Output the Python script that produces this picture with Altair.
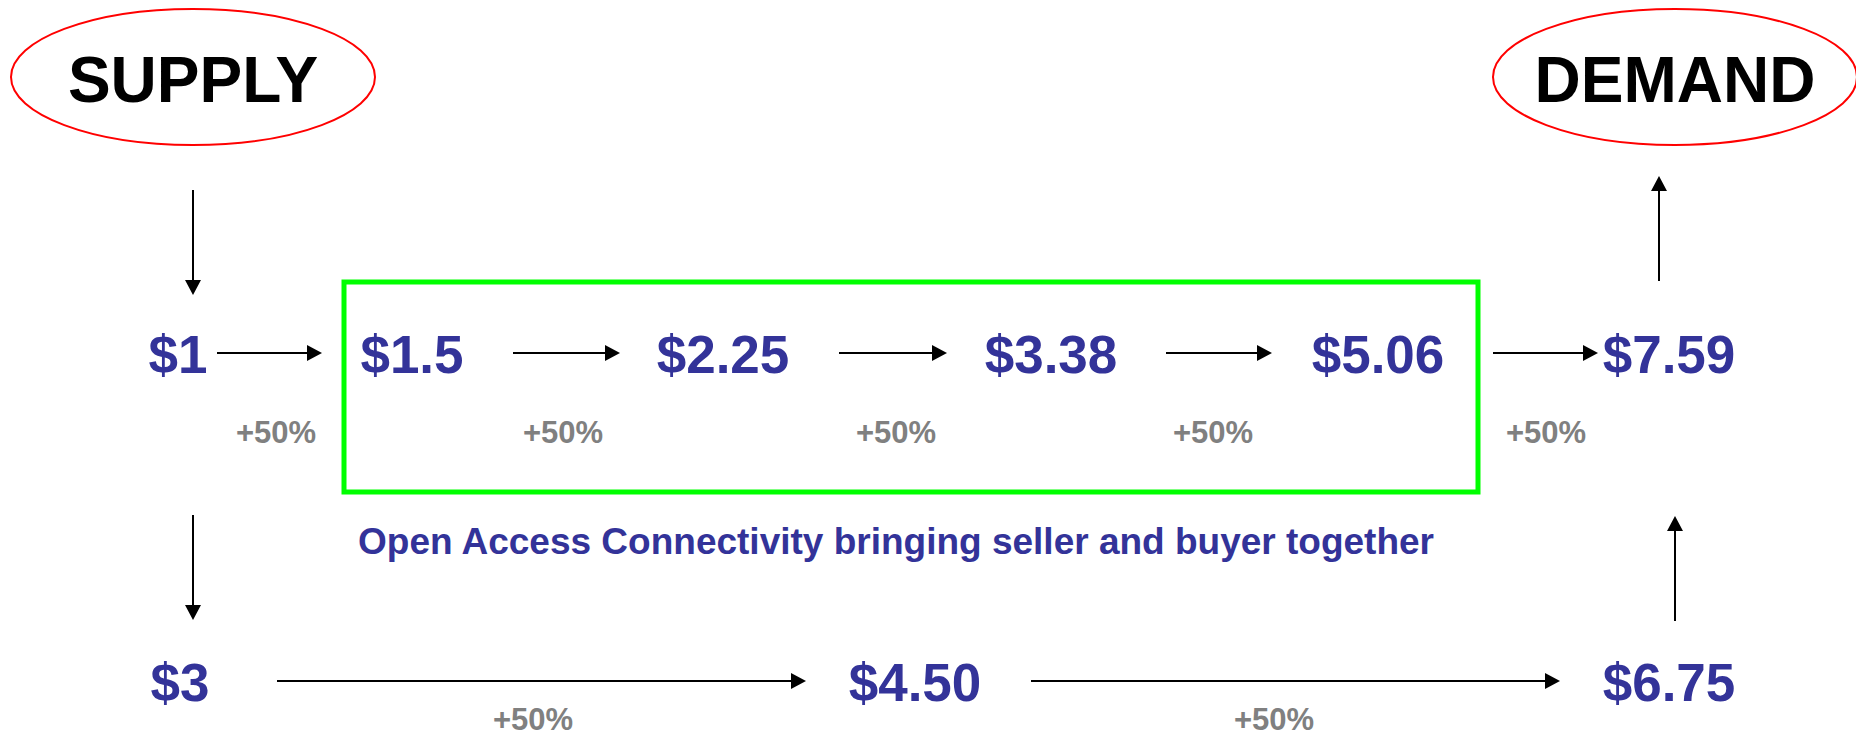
import altair as alt
import pandas as pd

# ---------------- data (text content) ----------------
end_labels = ["SUPPLY", "DEMAND"]
top_prices = ["$1", "$1.5", "$2.25", "$3.38", "$5.06", "$7.59"]
bottom_prices = ["$3", "$4.50", "$6.75"]
top_growth = ["+50%", "+50%", "+50%", "+50%", "+50%"]
bottom_growth = ["+50%", "+50%"]
caption = ["Open Access Connectivity bringing seller and buyer together"]

# ---------------- layout (pixel positions in the page) ----------------
end_x = [193, 1675]
end_y = [102, 102]
ellipse_y = [77, 77]
top_x = [178, 412, 723, 1051, 1378, 1669]
top_y = 373
bottom_x = [180, 915, 1669]
bottom_y = 701
top_growth_x = [276, 563, 896, 1213, 1546]
top_growth_y = 443
bottom_growth_x = [533, 1274]
bottom_growth_y = 730
caption_x = [896]
caption_y = [554]
box = dict(x=344, x2=1478, y=282, y2=492)
# arrows: start x, start y, tip x, tip y, direction angle
arrow_x1 = [217, 513, 839, 1166, 1493, 277, 1031, 193, 193, 1675, 1659]
arrow_y1 = [353, 353, 353, 353, 353, 681, 681, 190, 515, 621, 281]
arrow_x2 = [322, 620, 947, 1272, 1598, 806, 1560, 193, 193, 1675, 1659]
arrow_y2 = [353, 353, 353, 353, 353, 681, 681, 295, 620, 516, 176]
arrow_angle = [0, 0, 0, 0, 0, 0, 0, 90, 90, 270, 270]

W, H = 1848, 728
xs = alt.Scale(domain=[8, 8 + W], nice=False, zero=False)
ys = alt.Scale(domain=[8, 8 + H], nice=False, zero=False, reverse=True)

BLUE = "#333399"
GREY = "#808080"
FONT = "Liberation Sans"

ELLIPSE = ("M -1 0 C -1 -0.2063 -0.5523 -0.3736 0 -0.3736 "
           "C 0.5523 -0.3736 1 -0.2063 1 0 "
           "C 1 0.2063 0.5523 0.3736 0 0.3736 "
           "C -0.5523 0.3736 -1 0.2063 -1 0 Z")
TRI = "M 0 0 L -2 -1.0667 L -2 1.0667 Z"


def X(f="x"):
    return alt.X(f"{f}:Q", scale=xs, axis=None)


def Y(f="y"):
    return alt.Y(f"{f}:Q", scale=ys, axis=None)


def text_layer(labels, xpos, ypos, size, color):
    if not isinstance(ypos, list):
        ypos = [ypos] * len(labels)
    df = pd.DataFrame({"label": labels, "x": xpos, "y": ypos})
    return alt.Chart(df).mark_text(
        align="center", baseline="alphabetic", font=FONT,
        fontWeight="bold", fontSize=size, color=color
    ).encode(x=X(), y=Y(), text="label:N")


ell_df = pd.DataFrame({"x": end_x, "y": ellipse_y})
ellipses = alt.Chart(ell_df).mark_point(
    shape=ELLIPSE, size=(2 * 182) ** 2, filled=False,
    stroke="#ff0000", strokeWidth=2, opacity=1
).encode(x=X(), y=Y())

box_df = pd.DataFrame([box])
green_box = alt.Chart(box_df).mark_rect(
    filled=False, stroke="#00ff00", strokeWidth=5, opacity=1
).encode(x=X("x"), x2="x2:Q", y=Y("y"), y2="y2:Q")

ar = pd.DataFrame({"x1": arrow_x1, "y1": arrow_y1, "x2": arrow_x2,
                   "y2": arrow_y2, "angle": arrow_angle})
# shaft stops a bit before the tip so the head covers it
ar["sx2"] = ar["x2"] - 8 * (ar["angle"] == 0)
ar["sy2"] = ar["y2"] - 8 * (ar["angle"] == 90) + 8 * (ar["angle"] == 270)
shafts = alt.Chart(ar).mark_rule(color="black", strokeWidth=2).encode(
    x=X("x1"), y=Y("y1"), x2="sx2:Q", y2="sy2:Q")
heads = alt.Chart(ar).mark_point(
    shape=TRI, size=225, filled=True, color="black", opacity=1
).encode(x=X("x2"), y=Y("y2"), angle=alt.Angle("angle:Q", scale=None))

chart = alt.layer(
    ellipses,
    green_box,
    shafts,
    heads,
    text_layer(end_labels, end_x, end_y, 64, "black"),
    text_layer(top_prices, top_x, top_y, 53, BLUE),
    text_layer(bottom_prices, bottom_x, bottom_y, 53, BLUE),
    text_layer(top_growth, top_growth_x, top_growth_y, 31, GREY),
    text_layer(bottom_growth, bottom_growth_x, bottom_growth_y, 31, GREY),
    text_layer(caption, caption_x, caption_y, 37, BLUE),
).properties(
    width=W, height=H, padding=0, background="white",
    autosize=alt.AutoSizeParams(type="none")
).configure_view(stroke=None)

chart.save("out.html", embed_options={"renderer": "svg", "actions": False})
